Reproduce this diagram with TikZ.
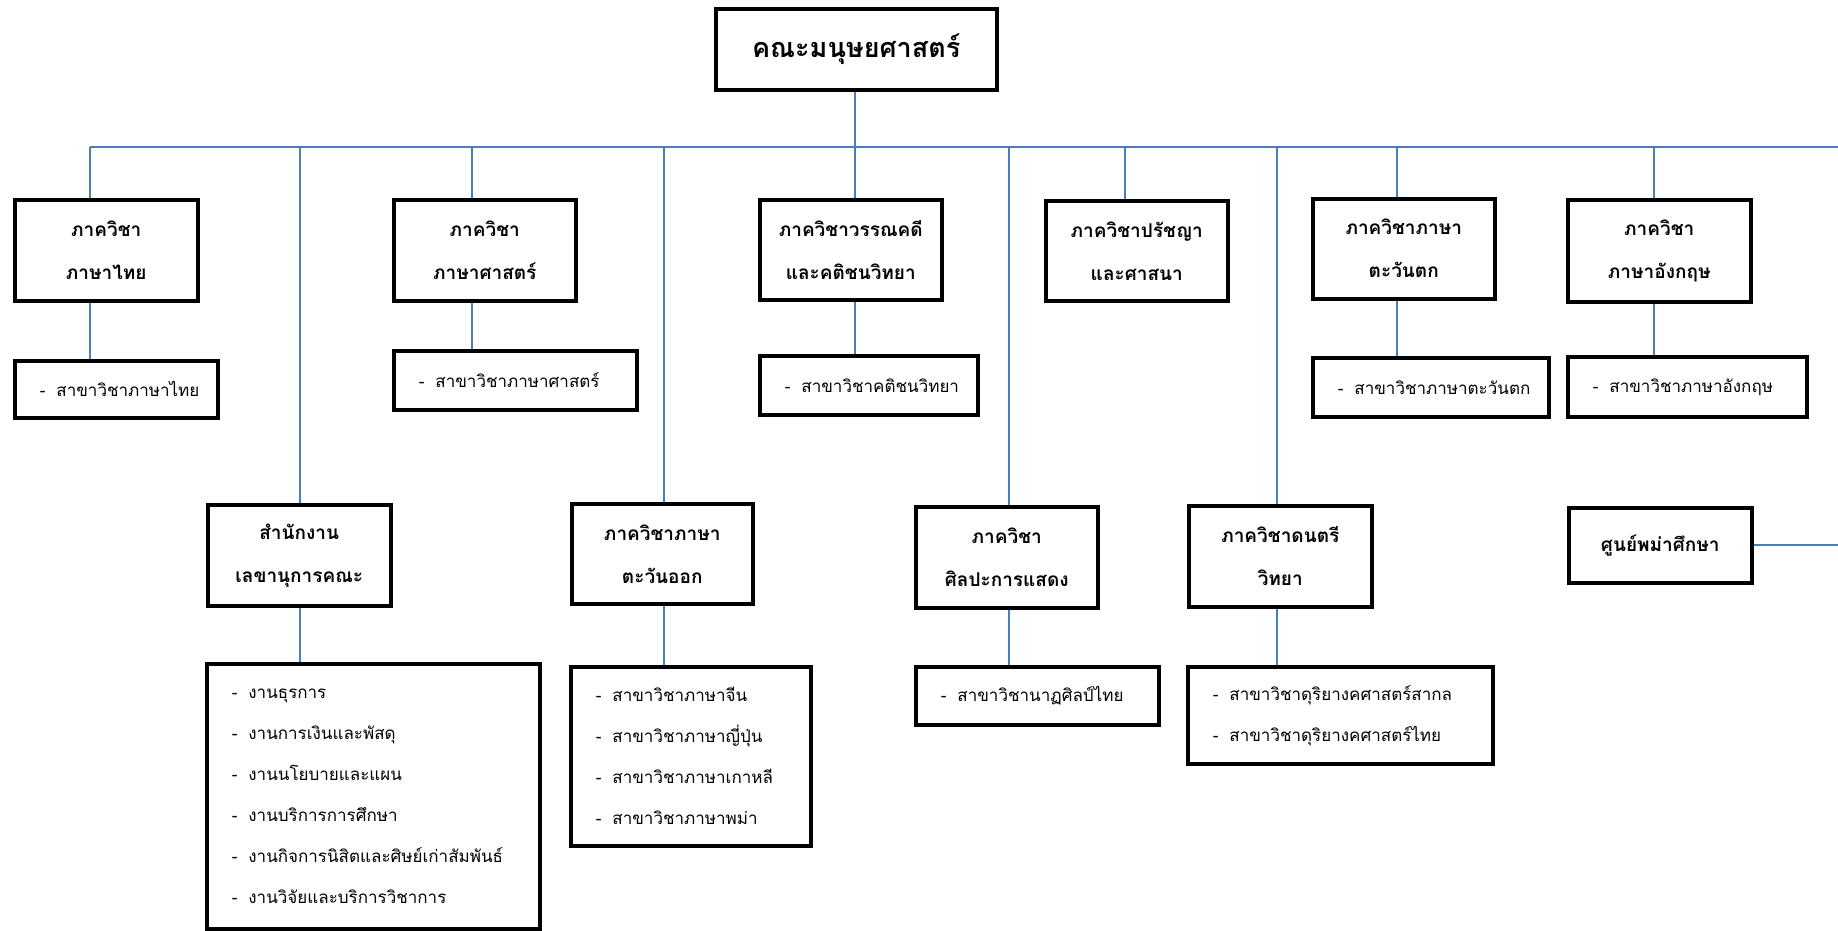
\documentclass[tikz,border=0pt]{standalone}
\usepackage{fontspec}
\newfontfamily\thaifont[Script=Thai]{Loma}
\definecolor{conn}{RGB}{74,126,187}
\newcommand{\itm}[1]{\mbox{-\hspace{11pt}#1}}
\begin{document}
\begin{tikzpicture}[x=1pt,y=-1pt,
  box/.style={draw=black,line width=3.5pt,rectangle,anchor=north west,inner sep=0pt},
  head/.style={box,align=center,font=\thaifont\bfseries\fontsize{19}{43}\selectfont},
  item/.style={box,align=left,font=\thaifont\fontsize{17}{41}\selectfont,inner xsep=25pt},
  link/.style={draw=conn,line width=2pt}]
\useasboundingbox (0,0) rectangle (1838,930);
% top
\node[box,align=center,font=\thaifont\bfseries\fontsize{27}{32}\selectfont,minimum width=281pt,minimum height=81pt] (top) at (714,7) {คณะมนุษยศาสตร์};
% row 2
\node[head,minimum width=183pt,minimum height=101pt] (thai) at (13,198) {ภาควิชา\\ภาษาไทย};
\node[head,minimum width=182pt,minimum height=101pt] (ling) at (392,198) {ภาควิชา\\ภาษาศาสตร์};
\node[head,minimum width=182pt,minimum height=100pt] (lit) at (758,198) {ภาควิชาวรรณคดี\\และคติชนวิทยา};
\node[head,minimum width=182pt,minimum height=100pt] (phil) at (1044,199) {ภาควิชาปรัชญา\\และศาสนา};
\node[head,minimum width=182pt,minimum height=100pt] (west) at (1311,197) {ภาควิชาภาษา\\ตะวันตก};
\node[head,minimum width=183pt,minimum height=102pt] (eng) at (1566,198) {ภาควิชา\\ภาษาอังกฤษ};
% row 2 subs
\node[item,text width=153pt,minimum height=57pt] (thaiS) at (13,359) {\itm{สาขาวิชาภาษาไทย}};
\node[item,text width=193pt,minimum height=59pt] (lingS) at (392,349) {\itm{สาขาวิชาภาษาศาสตร์}};
\node[item,text width=168pt,minimum height=59pt] (litS) at (758,354) {\itm{สาขาวิชาคติชนวิทยา}};
\node[item,text width=186pt,minimum height=59pt] (westS) at (1311,356) {\itm{สาขาวิชาภาษาตะวันตก}};
\node[item,text width=189pt,minimum height=60pt] (engS) at (1566,355) {\itm{สาขาวิชาภาษาอังกฤษ}};
% row 3
\node[head,minimum width=183pt,minimum height=101pt] (office) at (206,503) {สำนักงาน\\เลขานุการคณะ};
\node[head,minimum width=181pt,minimum height=100pt] (east) at (570,502) {ภาควิชาภาษา\\ตะวันออก};
\node[head,minimum width=182pt,minimum height=101pt] (perf) at (914,505) {ภาควิชา\\ศิลปะการแสดง};
\node[head,minimum width=183pt,minimum height=101pt] (music) at (1187,504) {ภาควิชาดนตรี\\วิทยา};
\node[head,minimum width=183pt,minimum height=75pt] (burma) at (1567,506) {ศูนย์พม่าศึกษา};
% row 3 subs
\node[item,text width=283pt,minimum height=265pt] (officeS) at (205,662) {\itm{งานธุรการ}\\\itm{งานการเงินและพัสดุ}\\\itm{งานนโยบายและแผน}\\\itm{งานบริการการศึกษา}\\\itm{งานกิจการนิสิตและศิษย์เก่าสัมพันธ์}\\\itm{งานวิจัยและบริการวิชาการ}};
\node[item,text width=190pt,minimum height=179pt] (eastS) at (569,665) {\itm{สาขาวิชาภาษาจีน}\\\itm{สาขาวิชาภาษาญี่ปุ่น}\\\itm{สาขาวิชาภาษาเกาหลี}\\\itm{สาขาวิชาภาษาพม่า}};
\node[item,text width=193pt,minimum height=58pt] (perfS) at (914,665) {\itm{สาขาวิชานาฏศิลป์ไทย}};
\node[item,text width=255pt,minimum height=97pt] (musicS) at (1186,665) {\itm{สาขาวิชาดุริยางคศาสตร์สากล}\\\itm{สาขาวิชาดุริยางคศาสตร์ไทย}};
% bus coordinates
\coordinate (busL) at (90,146.5);
\coordinate (busR) at (1838,146.5);
\coordinate (b1) at (90,146.5);
\coordinate (b2) at (300,146.5);
\coordinate (b3) at (472,146.5);
\coordinate (b4) at (663.5,146.5);
\coordinate (b5) at (854.5,146.5);
\coordinate (b6) at (1008.5,146.5);
\coordinate (b7) at (1125,146.5);
\coordinate (b8) at (1276.5,146.5);
\coordinate (b9) at (1397,146.5);
\coordinate (b10) at (1654,146.5);
\coordinate (edgeR) at (1838,544);
% connectors
\draw[link] (busL) -- (busR);
\draw[link] (top.south -| b5) -- (b5 |- lit.north);
\draw[link] (b1) -- (b1 |- thai.north);
\draw[link] (b3) -- (b3 |- ling.north);
\draw[link] (b7) -- (b7 |- phil.north);
\draw[link] (b9) -- (b9 |- west.north);
\draw[link] (b10) -- (b10 |- eng.north);
\draw[link] (b2) -- (b2 |- office.north);
\draw[link] (b4) -- (b4 |- east.north);
\draw[link] (b6) -- (b6 |- perf.north);
\draw[link] (b8) -- (b8 |- music.north);
\draw[link] (b1 |- thai.south) -- (b1 |- thaiS.north);
\draw[link] (b3 |- ling.south) -- (b3 |- lingS.north);
\draw[link] (b5 |- lit.south) -- (b5 |- litS.north);
\draw[link] (b9 |- west.south) -- (b9 |- westS.north);
\draw[link] (b10 |- eng.south) -- (b10 |- engS.north);
\draw[link] (b2 |- office.south) -- (b2 |- officeS.north);
\draw[link] (b4 |- east.south) -- (b4 |- eastS.north);
\draw[link] (b6 |- perf.south) -- (b6 |- perfS.north);
\draw[link] (b8 |- music.south) -- (b8 |- musicS.north);
\draw[link] (burma.east) -- (burma.east -| edgeR);
\end{tikzpicture}
\end{document}
